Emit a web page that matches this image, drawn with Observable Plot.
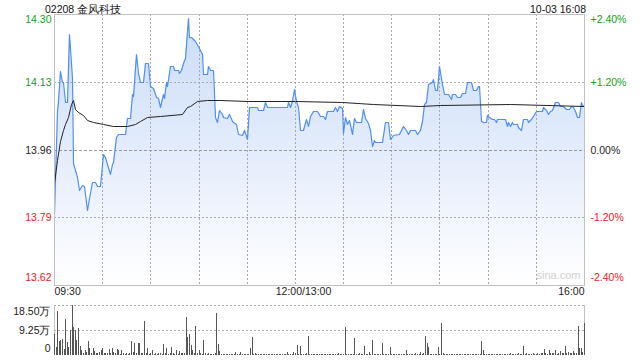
<!DOCTYPE html>
<html><head><meta charset="utf-8">
<script src="https://cdn.jsdelivr.net/npm/d3@7"></script>
<script src="https://cdn.jsdelivr.net/npm/@observablehq/plot@0.6"></script>
<style>
body{margin:0;background:#fff;}
#wrap{position:relative;width:640px;height:360px;font-family:Arial,"Liberation Sans",sans-serif;overflow:hidden;}
#title{position:absolute;left:45px;top:3px;font-size:10.5px;color:#111;white-space:nowrap;}
#stamp{position:absolute;left:530px;top:3px;font-size:10.5px;color:#111;white-space:nowrap;}
#price{position:absolute;left:0;top:0;}
#vol{position:absolute;left:0;top:300px;}
</style></head><body>
<div id="wrap"><div id="price"></div><div id="vol"></div><div id="title">02208 金风科技</div><div id="stamp">10-03 16:08</div></div>
<script>
// ---- data ----
const prevClose = 13.96;
const pctLevels = [0.024, 0.012, 0, -0.012, -0.024];
const priceTickLabels = ["14.30", "14.13", "13.96", "13.79", "13.62"];
const pctTickLabels = ["+2.40%", "+1.20%", "0.00%", "-1.20%", "-2.40%"];
const timeTicks = [0, 150, 330];
const timeTickLabels = ["09:30", "12:00/13:00", "16:00"];
const gridMinutes = [30, 60, 90, 120, 150, 180, 210, 240, 270, 300];
// minutes since 09:30 (lunch break removed), price
const priceMin = [0,1.7,2.7,3.7,4.8,5.8,6.8,7.9,9.5,11,12,14.1,15.8,17.2,18.7,20.4,22,23.5,25.5,26.6,28.6,30.3,31.8,32.8,34.9,35.9,36.9,38.6,40,44.2,45.6,47.3,48.4,49.4,51.1,52.5,53.5,55.2,56.7,58.7,59.8,61.8,63.5,64.9,66,67.7,68.5,69.6,70.5,72.2,73.9,74.7,77,78,78.9,80.1,81.6,83.3,84.2,85.1,87.8,90.5,92,93,95.1,96.1,97.1,99.2,100.2,101.7,102.9,104.4,105.4,107.5,109.2,110.6,111.6,113.3,114.8,116.9,118.3,120,121.6,126.2,127.2,130,131.4,132.8,144.9,145.9,147,148.4,149.6,150.7,151.7,153.2,155.2,156.9,158.3,159.4,161.1,163.6,165.6,167.7,168.7,169.8,173.9,175,176.4,177.6,179.1,180.1,181.2,182.6,183.9,185.4,187.1,188.3,191.2,192.3,193.7,195.2,196.6,198,199,199.9,204,205.8,208.2,209.4,210.9,215.1,217.3,218.9,220.4,221.9,224.8,226,227.6,229,230.4,231.6,233.1,235.2,236.2,237.2,238.3,239.9,241.4,242.8,245.5,247,248,249.7,250.7,252.8,254.2,255.9,257,259.7,261.1,262.8,263.8,264.8,265.9,267.3,268.8,269.8,271.1,272.6,274.1,275.1,276.1,280.8,281.9,282.9,283.9,285,286,288.1,289.1,290.6,291.8,294.3,295.3,296.8,298.4,299.9,303.7,304.7,306.2,307.8,308.8,310.3,312,314,315.1,317.1,318.6,320.7,321.7,323.4,324.4,325.9,326.9,328.1,328.9,330];
const priceVal = [13.802,14.056,14.081,14.155,14.126,14.126,14.077,14.077,14.245,14.138,13.926,13.892,13.859,13.871,13.869,13.810,13.839,13.880,13.880,13.869,13.869,13.949,13.941,13.925,13.900,13.925,13.929,13.990,13.999,13.999,14.038,14.038,14.097,14.093,14.196,14.150,14.126,14.126,14.175,14.175,14.118,14.113,14.089,14.087,14.064,14.097,14.087,14.128,14.118,14.167,14.167,14.156,14.156,14.148,14.156,14.175,14.187,14.286,14.237,14.237,14.229,14.212,14.196,14.146,14.146,14.167,14.156,14.156,14.040,14.027,14.058,14.048,14.040,14.037,14.048,14.031,14.027,14.023,13.999,13.997,14.009,13.986,14.066,14.066,14.058,14.058,14.078,14.066,14.066,14.077,14.066,14.079,14.110,14.081,14.066,14.009,14.009,14.036,14.017,14.044,14.056,14.056,14.044,14.044,14.036,14.056,14.056,14.064,14.056,14.068,14.062,14.001,14.040,14.023,14.034,13.999,14.039,14.028,14.028,14.060,14.039,14.025,14.007,13.969,13.983,13.978,13.978,14.028,14.028,13.987,13.995,13.999,14.017,14.007,13.999,14.008,14.008,13.999,14.009,14.031,14.073,14.077,14.122,14.126,14.134,14.107,14.107,14.167,14.122,14.097,14.097,14.085,14.097,14.097,14.091,14.091,14.099,14.099,14.126,14.126,14.107,14.107,14.118,14.118,14.031,14.027,14.027,14.046,14.040,14.036,14.036,14.027,14.036,14.036,14.017,14.027,14.017,14.027,14.022,14.022,14.015,14.007,14.036,14.036,14.027,14.036,14.044,14.056,14.056,14.066,14.058,14.048,14.056,14.058,14.077,14.077,14.068,14.068,14.060,14.060,14.068,14.066,14.056,14.040,14.040,14.077,14.068,14.071];
const avgMin = [0,1.7,3.7,5.4,6.8,8.9,10.4,11.6,13.1,15.1,18.2,20.4,24.5,30.7,36.9,45.3,50.4,53.5,57.7,66,79.5,82.6,84.7,88.9,95.1,103.4,121,150.1,179.1,198.8,227.9,240.3,283.9,330];
const avgVal = [13.876,13.933,13.982,14.007,14.023,14.040,14.073,14.082,14.060,14.052,14.046,14.033,14.027,14.023,14.019,14.017,14.023,14.031,14.040,14.043,14.048,14.064,14.068,14.079,14.082,14.082,14.081,14.081,14.078,14.073,14.068,14.071,14.073,14.068];
const volTicks = [185000, 92500, 0];
const volTickLabels = ["18.50万", "9.25万", "0"];
// one volume value per minute, minute 0 .. 330
const volume = [
  76600,30000,164000,51800,55500,59200,22000,133000,49000,30000,
  92500,185000,103600,92500,55500,98800,33000,20000,9000,18000,
  12000,51800,26000,8000,26000,15000,9000,7000,11000,18000,
  26000,8000,6000,9000,22000,7000,26000,10000,6000,22000,
  18000,5000,18000,6000,4000,7000,5000,9000,51800,12000,
  44000,8000,44000,45500,6000,9000,127000,7000,26000,5000,
  6000,18000,4000,7000,5000,6000,9000,4000,40700,6000,
  26000,5000,8000,30700,6000,4000,18500,5000,14800,6000,
  7000,9000,141700,67700,76600,37000,18500,9000,108400,6000,
  18500,7000,5000,55500,8000,4000,6000,5000,3000,4000,
  7000,156500,39600,14800,5000,3000,4000,3000,5000,3000,
  4000,3000,5000,12000,3000,4000,12000,3000,4000,3000,
  5000,4000,27000,67700,4000,8500,3000,4000,3000,2000,
  3000,4000,3000,2000,3000,4000,3000,2000,3000,4000,
  3000,2000,4000,3000,5000,12000,3000,4000,5000,12000,
  6000,37000,4000,33300,5000,3000,4000,6000,70300,4000,
  3000,4000,3000,5000,3000,4000,3000,4000,3000,2000,
  3000,4000,3000,5000,3000,4000,3000,6000,3000,4000,
  5000,104700,4000,3000,4000,3000,5000,61800,4000,3000,
  6000,4000,5000,34400,3000,5000,12000,4000,55500,3000,
  4000,3000,5000,4000,45500,3000,4000,5000,3000,30700,
  4000,3000,2000,4000,3000,5000,3000,4000,3000,18500,
  4000,3000,5000,3000,4000,6000,3000,5000,12000,4000,
  6000,71400,43300,30700,4000,3000,5000,3000,4000,30700,
  5000,119500,6000,4000,3000,5000,4000,3000,5000,4000,
  3000,4000,3000,5000,4000,3000,4000,3000,5000,3000,
  4000,3000,4000,5000,3000,4000,51800,18500,5000,4000,
  3000,4000,3000,5000,4000,3000,4000,3000,5000,4000,
  3000,5000,4000,3000,6000,4000,3000,5000,4000,7000,
  4000,5000,33300,4000,6000,3000,5000,4000,6000,5000,
  4000,7000,5000,6000,8000,22000,6000,5000,18500,7000,
  6000,8000,18500,5000,7000,14800,6000,9000,33300,7000,
  12000,6000,8000,16000,9000,7000,108400,24800,27000,10000,
  117300
];

// ---- derived tables ----
const priceData = priceMin.map((m, i) => ({m, p: priceVal[i]}));
const avgData = avgMin.map((m, i) => ({m, p: avgVal[i]}));
const volData = volume.map((v, m) => ({m, v}));
const GREEN = "#14a014", RED = "#f0201c", DARK = "#222";
const levelColor = (k) => pctLevels[k] > 0 ? GREEN : pctLevels[k] < 0 ? RED : DARK;
const yTicks = pctLevels.map((q, k) => ({y: prevClose * (1 + q), price: priceTickLabels[k], pct: pctTickLabels[k], c: levelColor(k), k}));
const yLo = prevClose * (1 + pctLevels[4]), yHi = prevClose * (1 + pctLevels[0]);
const timeData = timeTicks.map((m, i) => ({m, t: timeTickLabels[i]}));

const gradient = () => {
  const defs = d3.create("svg:defs");
  const g = defs.append("linearGradient").attr("id", "pg").attr("gradientUnits", "userSpaceOnUse")
    .attr("x1", 0).attr("x2", 0).attr("y1", 14).attr("y2", 285);
  g.append("stop").attr("offset", "0%").attr("stop-color", "#c9dcf8");
  g.append("stop").attr("offset", "55%").attr("stop-color", "#e6eefc");
  g.append("stop").attr("offset", "100%").attr("stop-color", "#ffffff");
  return defs.node();
};

const style = {fontFamily: "Arial, 'Liberation Sans', sans-serif", fontSize: "10.5px", background: "transparent", overflow: "visible"};
const GRID = "#a8a8a8";
const DOT = "2,2";

const price = Plot.plot({
  width: 640, height: 300,
  marginLeft: 54, marginRight: 56, marginTop: 14, marginBottom: 15,
  x: {domain: [0, 330], axis: null, round: true},
  y: {domain: [yLo, yHi], axis: null, round: true},
  color: {type: "identity"},
  style,
  marks: [
    gradient,
    Plot.areaY(priceData, {x: "m", y1: () => yLo, y2: "p", fill: "url(#pg)"}),
    Plot.ruleX(gridMinutes, {x: d => d, stroke: GRID, strokeDasharray: DOT}),
    Plot.ruleY(yTicks.filter(d => d.k === 1 || d.k === 3), {y: "y", stroke: GRID, strokeDasharray: DOT}),
    Plot.ruleY(yTicks.filter(d => d.k === 2), {y: "y", stroke: "#999", strokeDasharray: "3,2"}),
    Plot.text(["sina.com"], {frameAnchor: "bottom-right", dx: -4, dy: -7, fill: "#cfcfcf", fontSize: 11}),
    Plot.lineY(priceData, {x: "m", y: "p", stroke: "#4f8ff0", strokeWidth: 1.2}),
    Plot.lineY(avgData, {x: "m", y: "p", stroke: "#222", strokeWidth: 1}),
    Plot.frame({stroke: "#c0c0c0"}),
    Plot.text(yTicks.filter(d => d.k === 0), {y: "y", text: "price", fill: "c", frameAnchor: "left", textAnchor: "end", dx: -3, dy: 5}),
    Plot.text(yTicks.filter(d => d.k > 0 && d.k < 4), {y: "y", text: "price", fill: "c", frameAnchor: "left", textAnchor: "end", dx: -3}),
    Plot.text(yTicks.filter(d => d.k === 4), {y: "y", text: "price", fill: "c", frameAnchor: "left", textAnchor: "end", dx: -3, dy: -8}),
    Plot.text(yTicks.filter(d => d.k === 0), {y: "y", text: "pct", fill: "c", frameAnchor: "right", textAnchor: "start", dx: 6, dy: 5}),
    Plot.text(yTicks.filter(d => d.k > 0 && d.k < 4), {y: "y", text: "pct", fill: "c", frameAnchor: "right", textAnchor: "start", dx: 6}),
    Plot.text(yTicks.filter(d => d.k === 4), {y: "y", text: "pct", fill: "c", frameAnchor: "right", textAnchor: "start", dx: 6, dy: -8}),
    Plot.text(timeData.filter((d, i) => i === 0), {x: "m", text: "t", frameAnchor: "bottom", textAnchor: "start", dy: 9, fill: "#222"}),
    Plot.text(timeData.filter((d, i) => i === 1), {x: "m", text: "t", frameAnchor: "bottom", textAnchor: "middle", dy: 9, dx: 8, fill: "#222"}),
    Plot.text(timeData.filter((d, i) => i === 2), {x: "m", text: "t", frameAnchor: "bottom", textAnchor: "end", dy: 9, fill: "#222"})
  ]
});
document.getElementById("price").appendChild(price);

const volTickData = volTicks.map((v, i) => ({v, t: volTickLabels[i], i}));
const vol = Plot.plot({
  width: 640, height: 60,
  marginLeft: 54, marginRight: 56, marginTop: 5, marginBottom: 5,
  x: {domain: [0, 330], axis: null, round: true},
  y: {domain: [0, 185000], axis: null, round: true},
  style,
  marks: [
    Plot.ruleY(volTicks.slice(0, 2), {y: d => d, stroke: GRID, strokeDasharray: DOT}),
    Plot.ruleX([0, 330], {x: d => d, stroke: "#c0c0c0"}),
    Plot.ruleX(volData, {x: "m", y1: 0, y2: "v", stroke: "#555", strokeWidth: 1}),
    Plot.text(volTickData.filter(d => d.i === 0), {y: "v", text: "t", frameAnchor: "left", textAnchor: "end", dx: -4, dy: 6, fill: "#222"}),
    Plot.text(volTickData.filter(d => d.i === 1), {y: "v", text: "t", frameAnchor: "left", textAnchor: "end", dx: -4, fill: "#222"}),
    Plot.text(volTickData.filter(d => d.i === 2), {y: "v", text: "t", frameAnchor: "left", textAnchor: "end", dx: -4, dy: -7, fill: "#222"})
  ]
});
document.getElementById("vol").appendChild(vol);
</script>
</body></html>
